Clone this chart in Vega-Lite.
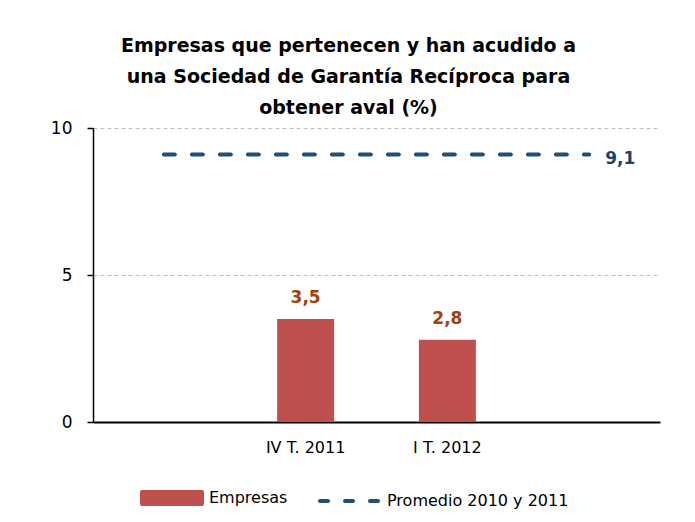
{
  "$schema": "https://vega.github.io/schema/vega-lite/v6.json",
  "width": 567,
  "height": 294,
  "autosize": {"type": "none"},
  "padding": {"left": 93, "top": 128, "right": 35, "bottom": 100},
  "background": "white",
  "config": {
    "locale": {"number": {"decimal": ",", "thousands": ".", "grouping": [3], "currency": ["", "€"]}},
    "view": {"stroke": null},
    "font": "DejaVu Sans"
  },
  "title": {
    "text": ["Empresas que pertenecen y han acudido a", "una Sociedad de Garantía Recíproca para", "obtener aval (%)"],
    "fontSize": 19,
    "fontWeight": "bold",
    "lineHeight": 31,
    "color": "#000000",
    "anchor": "middle",
    "frame": "group",
    "offset": 1,
    "dx": -28
  },
  "datasets": {
    "empresas": [
      {"periodo": "IV T. 2011", "valor": 3.5},
      {"periodo": "I T. 2012", "valor": 2.8}
    ],
    "promedio": [
      {"periodo": "_a", "valor": 9.1},
      {"periodo": "IV T. 2011", "valor": 9.1},
      {"periodo": "I T. 2012", "valor": 9.1},
      {"periodo": "_b", "valor": 9.1}
    ]
  },
  "encoding": {
    "x": {
      "field": "periodo",
      "type": "nominal",
      "sort": null,
      "scale": {"domain": ["_a", "IV T. 2011", "I T. 2012", "_b"], "paddingInner": 0, "paddingOuter": 0},
      "axis": {
        "title": null,
        "labelAngle": 0,
        "ticks": false,
        "grid": false,
        "domainColor": "#000000",
        "domainWidth": 2,
        "labelFontSize": 16,
        "labelColor": "#000000",
        "labelPadding": 17,
        "labelExpr": "indexof(datum.value, '_') == 0 ? '' : datum.value"
      }
    },
    "y": {
      "field": "valor",
      "type": "quantitative",
      "scale": {"domain": [0, 10], "nice": false},
      "axis": {
        "title": null,
        "values": [0, 5, 10],
        "grid": true,
        "gridDash": [4, 3],
        "gridColor": "#BFBFBF",
        "gridWidth": 1,
        "domainColor": "#000000",
        "domainWidth": 1.5,
        "tickColor": "#000000",
        "tickWidth": 1.5,
        "tickSize": 6,
        "labelFontSize": 17,
        "labelColor": "#000000",
        "labelPadding": 15
      }
    }
  },
  "layer": [
    {
      "data": {"name": "empresas"},
      "mark": {"type": "bar", "size": 57},
      "encoding": {
        "color": {
          "datum": "Empresas",
          "scale": {"domain": ["Empresas", "Promedio 2010 y 2011"], "range": ["#C0504D", "#1F4E79"]},
          "legend": {
            "title": null,
            "orient": "none",
            "direction": "horizontal",
            "legendX": 47,
            "legendY": 338,
            "symbolSize": 3600,
            "labelFontSize": 16,
            "labelColor": "#000000",
            "labelOffset": 5,
            "labelLimit": 400,
            "columnPadding": 24,
            "encode": {
              "symbols": {
                "update": {
                  "shape": {"signal": "datum.value == 'Empresas' ? 'M-1,-0.2H1V0.2H-1Z' : 'stroke'"},
                  "fill": {"signal": "datum.value == 'Empresas' ? '#C0504D' : 'transparent'"},
                  "stroke": {"signal": "datum.value == 'Empresas' ? 'transparent' : '#1F4E79'"},
                  "strokeDash": {"signal": "datum.value == 'Empresas' ? [1, 0] : [8, 17]"},
                  "strokeWidth": {"value": 4},
                  "strokeCap": {"value": "round"},
                  "opacity": {"value": 1}
                }
              }
            }
          }
        }
      }
    },
    {
      "data": {"name": "empresas"},
      "mark": {"type": "text", "baseline": "bottom", "dy": -12, "fontSize": 17, "fontWeight": "bold", "color": "#A3400F"},
      "encoding": {
        "text": {"field": "valor", "type": "quantitative", "format": ".1f"}
      }
    },
    {
      "data": {"name": "promedio"},
      "mark": {"type": "line", "strokeDash": [11, 17], "strokeWidth": 4, "strokeCap": "round"},
      "encoding": {
        "color": {"datum": "Promedio 2010 y 2011"}
      }
    },
    {
      "data": {"name": "promedio"},
      "transform": [{"filter": "datum.periodo == '_b'"}],
      "mark": {"type": "text", "align": "left", "baseline": "middle", "dx": 16, "dy": 5, "fontSize": 17, "fontWeight": "bold", "color": "#1F3F6B"},
      "encoding": {
        "text": {"field": "valor", "type": "quantitative", "format": ".1f"}
      }
    }
  ]
}
